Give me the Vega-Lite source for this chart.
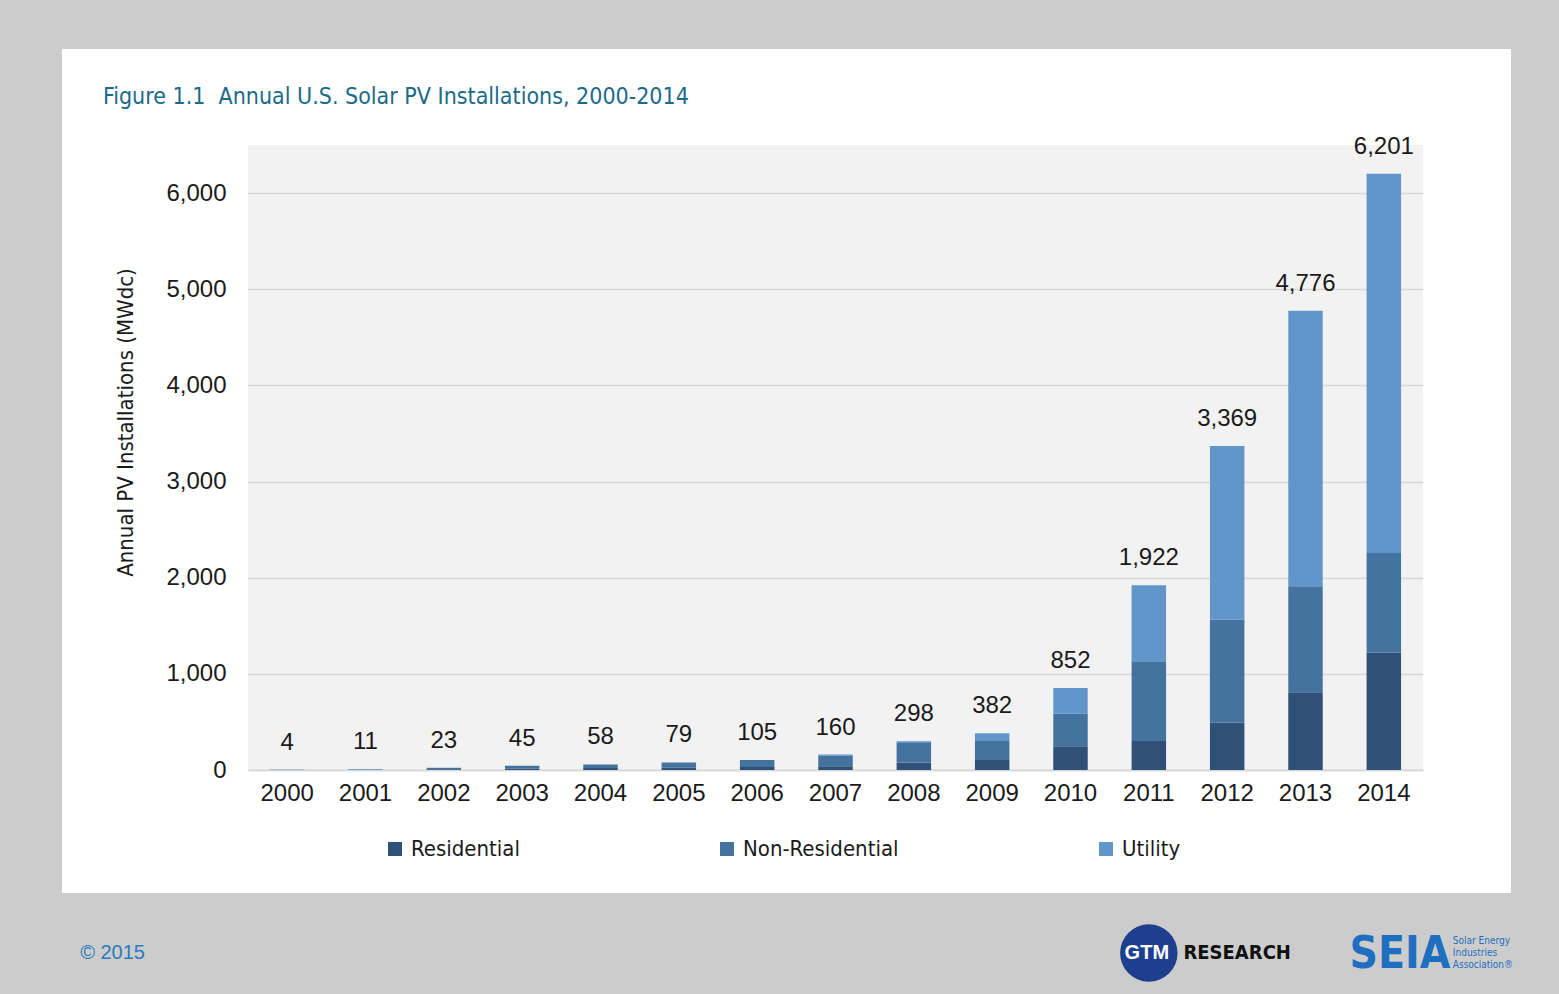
{
  "$schema": "https://vega.github.io/schema/vega-lite/v6.json",
  "autosize": "none",
  "width": 1449,
  "height": 844,
  "padding": {"left": 62, "top": 49, "right": 48, "bottom": 101},
  "background": "#cccccc",
  "config": {
    "view": {"fill": "white", "stroke": null},
    "axisX": {
      "offset": -123, "domain": true, "domainColor": "#d6d6d6", "domainWidth": 1.5,
      "ticks": false, "grid": false, "labelAngle": 0,
      "labelFont": "Liberation Sans", "labelFontSize": 24, "labelColor": "#1a1a1a", "labelPadding": 11
    },
    "axisY": {
      "offset": 0, "grid": true, "gridColor": "#e4e4e4", "gridWidth": 1.5,
      "ticks": false, "domain": false, "tickCount": 7, "format": ",d",
      "labelFont": "Liberation Sans", "labelFontSize": 24, "labelColor": "#1a1a1a", "labelPadding": -164,
      "titleFont": "'DejaVu Sans Condensed', 'Liberation Sans', sans-serif", "titleFontSize": 22, "titleFontWeight": "normal",
      "titleColor": "#1a1a1a", "titleX": 63, "titleY": 373, "titleAngle": 270,
      "titleAlign": "center", "titleBaseline": "middle"
    }
  },
  "title": {
    "text": "Figure 1.1\u00a0 Annual U.S. Solar PV Installations, 2000-2014",
    "anchor": "start",
    "frame": "group",
    "baseline": "top",
    "offset": 0,
    "dx": 41,
    "dy": 60,
    "font": "'DejaVu Sans Condensed', 'Liberation Sans', sans-serif",
    "fontSize": 23,
    "fontWeight": "normal",
    "color": "#1b6a8a"
  },
  "data": {
    "values": [
      {"year": "2000", "segment": "Residential", "mw": 1},
      {"year": "2000", "segment": "Non-Residential", "mw": 1},
      {"year": "2000", "segment": "Utility", "mw": 2},
      {"year": "2001", "segment": "Residential", "mw": 3},
      {"year": "2001", "segment": "Non-Residential", "mw": 3},
      {"year": "2001", "segment": "Utility", "mw": 5},
      {"year": "2002", "segment": "Residential", "mw": 9},
      {"year": "2002", "segment": "Non-Residential", "mw": 12},
      {"year": "2002", "segment": "Utility", "mw": 2},
      {"year": "2003", "segment": "Residential", "mw": 15},
      {"year": "2003", "segment": "Non-Residential", "mw": 28},
      {"year": "2003", "segment": "Utility", "mw": 2},
      {"year": "2004", "segment": "Residential", "mw": 21},
      {"year": "2004", "segment": "Non-Residential", "mw": 36},
      {"year": "2004", "segment": "Utility", "mw": 1},
      {"year": "2005", "segment": "Residential", "mw": 27},
      {"year": "2005", "segment": "Non-Residential", "mw": 52},
      {"year": "2005", "segment": "Utility", "mw": 0},
      {"year": "2006", "segment": "Residential", "mw": 30},
      {"year": "2006", "segment": "Non-Residential", "mw": 75},
      {"year": "2006", "segment": "Utility", "mw": 0},
      {"year": "2007", "segment": "Residential", "mw": 40},
      {"year": "2007", "segment": "Non-Residential", "mw": 110},
      {"year": "2007", "segment": "Utility", "mw": 10},
      {"year": "2008", "segment": "Residential", "mw": 78},
      {"year": "2008", "segment": "Non-Residential", "mw": 202},
      {"year": "2008", "segment": "Utility", "mw": 18},
      {"year": "2009", "segment": "Residential", "mw": 105},
      {"year": "2009", "segment": "Non-Residential", "mw": 197},
      {"year": "2009", "segment": "Utility", "mw": 80},
      {"year": "2010", "segment": "Residential", "mw": 246},
      {"year": "2010", "segment": "Non-Residential", "mw": 342},
      {"year": "2010", "segment": "Utility", "mw": 264},
      {"year": "2011", "segment": "Residential", "mw": 302},
      {"year": "2011", "segment": "Non-Residential", "mw": 830},
      {"year": "2011", "segment": "Utility", "mw": 790},
      {"year": "2012", "segment": "Residential", "mw": 493},
      {"year": "2012", "segment": "Non-Residential", "mw": 1069},
      {"year": "2012", "segment": "Utility", "mw": 1807},
      {"year": "2013", "segment": "Residential", "mw": 809},
      {"year": "2013", "segment": "Non-Residential", "mw": 1101},
      {"year": "2013", "segment": "Utility", "mw": 2866},
      {"year": "2014", "segment": "Residential", "mw": 1222},
      {"year": "2014", "segment": "Non-Residential", "mw": 1035},
      {"year": "2014", "segment": "Utility", "mw": 3944}
    ]
  },
  "layer": [
    {
      "transform": [{"filter": "datum.segment === 'Residential'"}],
      "mark": {"type": "bar", "color": "black", "opacity": 0.05},
      "encoding": {
        "x": {"field": "year", "type": "ordinal", "title": null,
              "scale": {"range": [186, 1361], "paddingInner": 0, "paddingOuter": 0}},
        "y": {"datum": 6500, "type": "quantitative", "title": "Annual PV Installations (MWdc)",
              "scale": {"domain": [0, 6500], "range": [721, 96], "nice": false}},
        "y2": {"datum": 0}
      }
    },
    {
      "transform": [{"stack": "mw", "groupby": ["year"], "as": ["y0", "y1"]}],
      "mark": {"type": "bar", "width": {"band": 0.44}},
      "encoding": {
        "x": {"field": "year", "type": "ordinal", "title": null},
        "y": {"field": "y1", "type": "quantitative", "title": "Annual PV Installations (MWdc)"},
        "y2": {"field": "y0"},
        "color": {
          "field": "segment", "type": "nominal",
          "scale": {"domain": ["Residential", "Non-Residential", "Utility"],
                    "range": ["#2f5077", "#44739f", "#6196cb"]},
          "legend": {
            "title": null, "orient": "none", "legendX": 322, "legendY": 789, "direction": "horizontal",
            "symbolType": "square", "symbolSize": 196, "symbolStrokeWidth": 0,
            "labelFont": "'DejaVu Sans Condensed', 'Liberation Sans', sans-serif", "labelFontSize": 22, "labelColor": "#1a1a1a",
            "labelOffset": 5, "columnPadding": 196, "padding": 0, "labelLimit": 0
          }
        }
      }
    },
    {
      "transform": [{"aggregate": [{"op": "sum", "field": "mw", "as": "total"}], "groupby": ["year"]}],
      "mark": {"type": "text", "baseline": "middle", "dy": -27, "font": "Liberation Sans", "fontSize": 24, "color": "#1a1a1a"},
      "encoding": {
        "x": {"field": "year", "type": "ordinal", "title": null},
        "y": {"field": "total", "type": "quantitative", "title": "Annual PV Installations (MWdc)"},
        "text": {"field": "total", "type": "quantitative", "format": ",d"}
      }
    },
    {
      "data": {"values": [{"label": "© 2015"}]},
      "mark": {"type": "text", "align": "left", "baseline": "middle", "dx": -207, "font": "Liberation Sans", "fontSize": 20, "color": "#2b7bbf"},
      "encoding": {
        "x": {"datum": "2000", "type": "ordinal", "title": null},
        "y": {"datum": -1903, "type": "quantitative", "title": "Annual PV Installations (MWdc)"},
        "text": {"field": "label"}
      }
    },
    {
      "data": {"values": [{"label": "GTM"}]},
      "mark": {"type": "point", "shape": "circle", "filled": true, "size": 3300, "color": "#1d3f8e", "opacity": 1, "dx": -3},
      "encoding": {
        "x": {"datum": "2011", "type": "ordinal", "title": null},
        "y": {"datum": -1903, "type": "quantitative", "title": "Annual PV Installations (MWdc)"}
      }
    },
    {
      "data": {"values": [{"label": "GTM"}]},
      "mark": {"type": "text", "align": "center", "baseline": "middle", "dx": -2, "font": "Liberation Sans", "fontWeight": "bold", "fontSize": 20, "color": "white"},
      "encoding": {
        "x": {"datum": "2011", "type": "ordinal", "title": null},
        "y": {"datum": -1903, "type": "quantitative", "title": "Annual PV Installations (MWdc)"},
        "text": {"field": "label"}
      }
    },
    {
      "data": {"values": [{"label": "RESEARCH"}]},
      "mark": {"type": "text", "align": "center", "baseline": "middle", "dx": 10, "font": "'DejaVu Sans Condensed', 'Liberation Sans', sans-serif", "fontWeight": "bold", "fontSize": 20, "color": "#111111"},
      "encoding": {
        "x": {"datum": "2012", "type": "ordinal", "title": null},
        "y": {"datum": -1903, "type": "quantitative", "title": "Annual PV Installations (MWdc)"},
        "text": {"field": "label"}
      }
    },
    {
      "data": {"values": [{"label": "SEIA"}]},
      "mark": {"type": "text", "align": "center", "baseline": "middle", "dx": 16, "dy": 2, "font": "'DejaVu Sans Condensed', 'Liberation Sans', sans-serif", "fontWeight": "bold", "fontSize": 44, "color": "#1f6fc0"},
      "encoding": {
        "x": {"datum": "2014", "type": "ordinal", "title": null},
        "y": {"datum": -1903, "type": "quantitative", "title": "Annual PV Installations (MWdc)"},
        "text": {"field": "label"}
      }
    },
    {
      "data": {"values": [{"label": "Solar Energy\nIndustries\nAssociation®"}]},
      "mark": {"type": "text", "align": "left", "baseline": "middle", "dx": 69, "dy": -12, "lineBreak": "\n", "lineHeight": 12, "font": "'DejaVu Sans Condensed', 'Liberation Sans', sans-serif", "fontSize": 10, "color": "#1f6fc0"},
      "encoding": {
        "x": {"datum": "2014", "type": "ordinal", "title": null},
        "y": {"datum": -1903, "type": "quantitative", "title": "Annual PV Installations (MWdc)"},
        "text": {"field": "label"}
      }
    }
  ]
}
